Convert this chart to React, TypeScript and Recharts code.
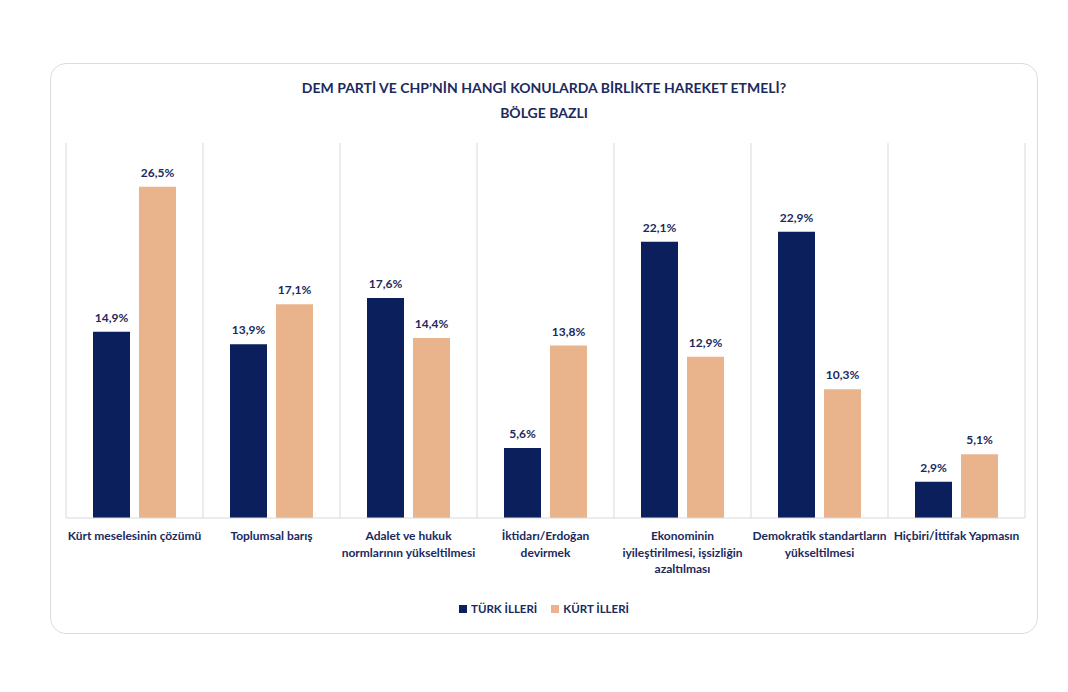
import { Bar, BarChart, CartesianGrid, LabelList, XAxis, YAxis } from "recharts";

const categories = [
	"Kürt meselesinin çözümü",
	"Toplumsal barış",
	"Adalet ve hukuk\nnormlarının yükseltilmesi",
	"İktidarı/Erdoğan\ndevirmek",
	"Ekonominin\niyileştirilmesi, işsizliğin\nazaltılması",
	"Demokratik standartların\nyükseltilmesi",
	"Hiçbiri/İttifak Yapmasın",
];
const turkValues = [14.9, 13.9, 17.6, 5.6, 22.1, 22.9, 2.9];
const kurtValues = [26.5, 17.1, 14.4, 13.8, 12.9, 10.3, 5.1];
const seriesNames = ["TÜRK İLLERİ", "KÜRT İLLERİ"];
const seriesColors = ["#0b1f5c", "#e9b48b"];
const titleLines = ["DEM PARTİ VE CHP’NİN HANGİ KONULARDA BİRLİKTE HAREKET ETMELİ?", "BÖLGE BAZLI"];

const FONT = "Lato, 'Open Sans', sans-serif";
const TEXT = "#1b2a5e";

const data = categories.map((name, i) => ({ name, turk: turkValues[i], kurt: kurtValues[i] }));

const fmt = (v: any) => `${Number(v).toFixed(1).replace(".", ",")}%`;

function CategoryTick({ x, y, payload }: any) {
	const lines = String(payload.value).split("\n");
	return (
		<text x={x} y={y} textAnchor="middle" fill={TEXT} fontFamily={FONT} fontSize={12} fontWeight={700}>
			{lines.map((line, i) => (
				<tspan key={i} x={x} dy={i === 0 ? 14 : 16.5}>
					{line}
				</tspan>
			))}
		</text>
	);
}

export default function App() {
	return (
		<div style={{ position: "relative", width: 1052, height: 676, fontFamily: FONT }}>
			<div
				style={{
					position: "absolute",
					left: 42,
					top: 55,
					width: 986,
					height: 569,
					border: "1px solid #dcdcdc",
					borderRadius: 16,
					background: "#fff",
				}}
			>
				<div
					style={{
						position: "absolute",
						top: 11,
						left: 0,
						width: 986,
						textAlign: "center",
						color: TEXT,
						fontWeight: 700,
						fontSize: 14,
						lineHeight: "25px",
					}}
				>
					{titleLines.map((t) => (
						<div key={t}>{t}</div>
					))}
				</div>
				<div style={{ position: "absolute", left: -1, top: -1 }}>
					<BarChart
						width={988}
						height={571}
						data={data}
						margin={{ top: 80, right: 13, left: 16, bottom: 0 }}
						barSize={37}
						barGap={9}
					>
						<CartesianGrid
							horizontal={false}
							stroke="#d9d9d9"
							verticalCoordinatesGenerator={({ offset }: any) =>
								Array.from({ length: categories.length + 1 }, (_, i) => offset.left + (i * offset.width) / categories.length)
							}
						/>
						<XAxis
							dataKey="name"
							interval={0}
							height={116}
							axisLine={{ stroke: "#d9d9d9" }}
							tickLine={false}
							tick={<CategoryTick />}
						/>
						<YAxis hide domain={[0, 30]} />
						<Bar dataKey="turk" name={seriesNames[0]} fill={seriesColors[0]} isAnimationActive={false}>
							<LabelList
								dataKey="turk"
								position="top"
								offset={10}
								formatter={fmt}
								fill={TEXT}
								fontFamily={FONT}
								fontSize={12}
								fontWeight={700}
							/>
						</Bar>
						<Bar dataKey="kurt" name={seriesNames[1]} fill={seriesColors[1]} isAnimationActive={false}>
							<LabelList
								dataKey="kurt"
								position="top"
								offset={10}
								formatter={fmt}
								fill={TEXT}
								fontFamily={FONT}
								fontSize={12}
								fontWeight={700}
							/>
						</Bar>
					</BarChart>
				</div>
				<div
					style={{
						position: "absolute",
						top: 538,
						left: 0,
						width: 986,
						display: "flex",
						justifyContent: "center",
						gap: 14,
						color: TEXT,
						fontSize: 11.5,
						fontWeight: 700,
					}}
				>
					{seriesNames.map((n, i) => (
						<div key={n} style={{ display: "flex", alignItems: "center", gap: 4 }}>
							<span style={{ width: 8, height: 8, background: seriesColors[i], display: "inline-block" }} />
							<span>{n}</span>
						</div>
					))}
				</div>
			</div>
		</div>
	);
}
